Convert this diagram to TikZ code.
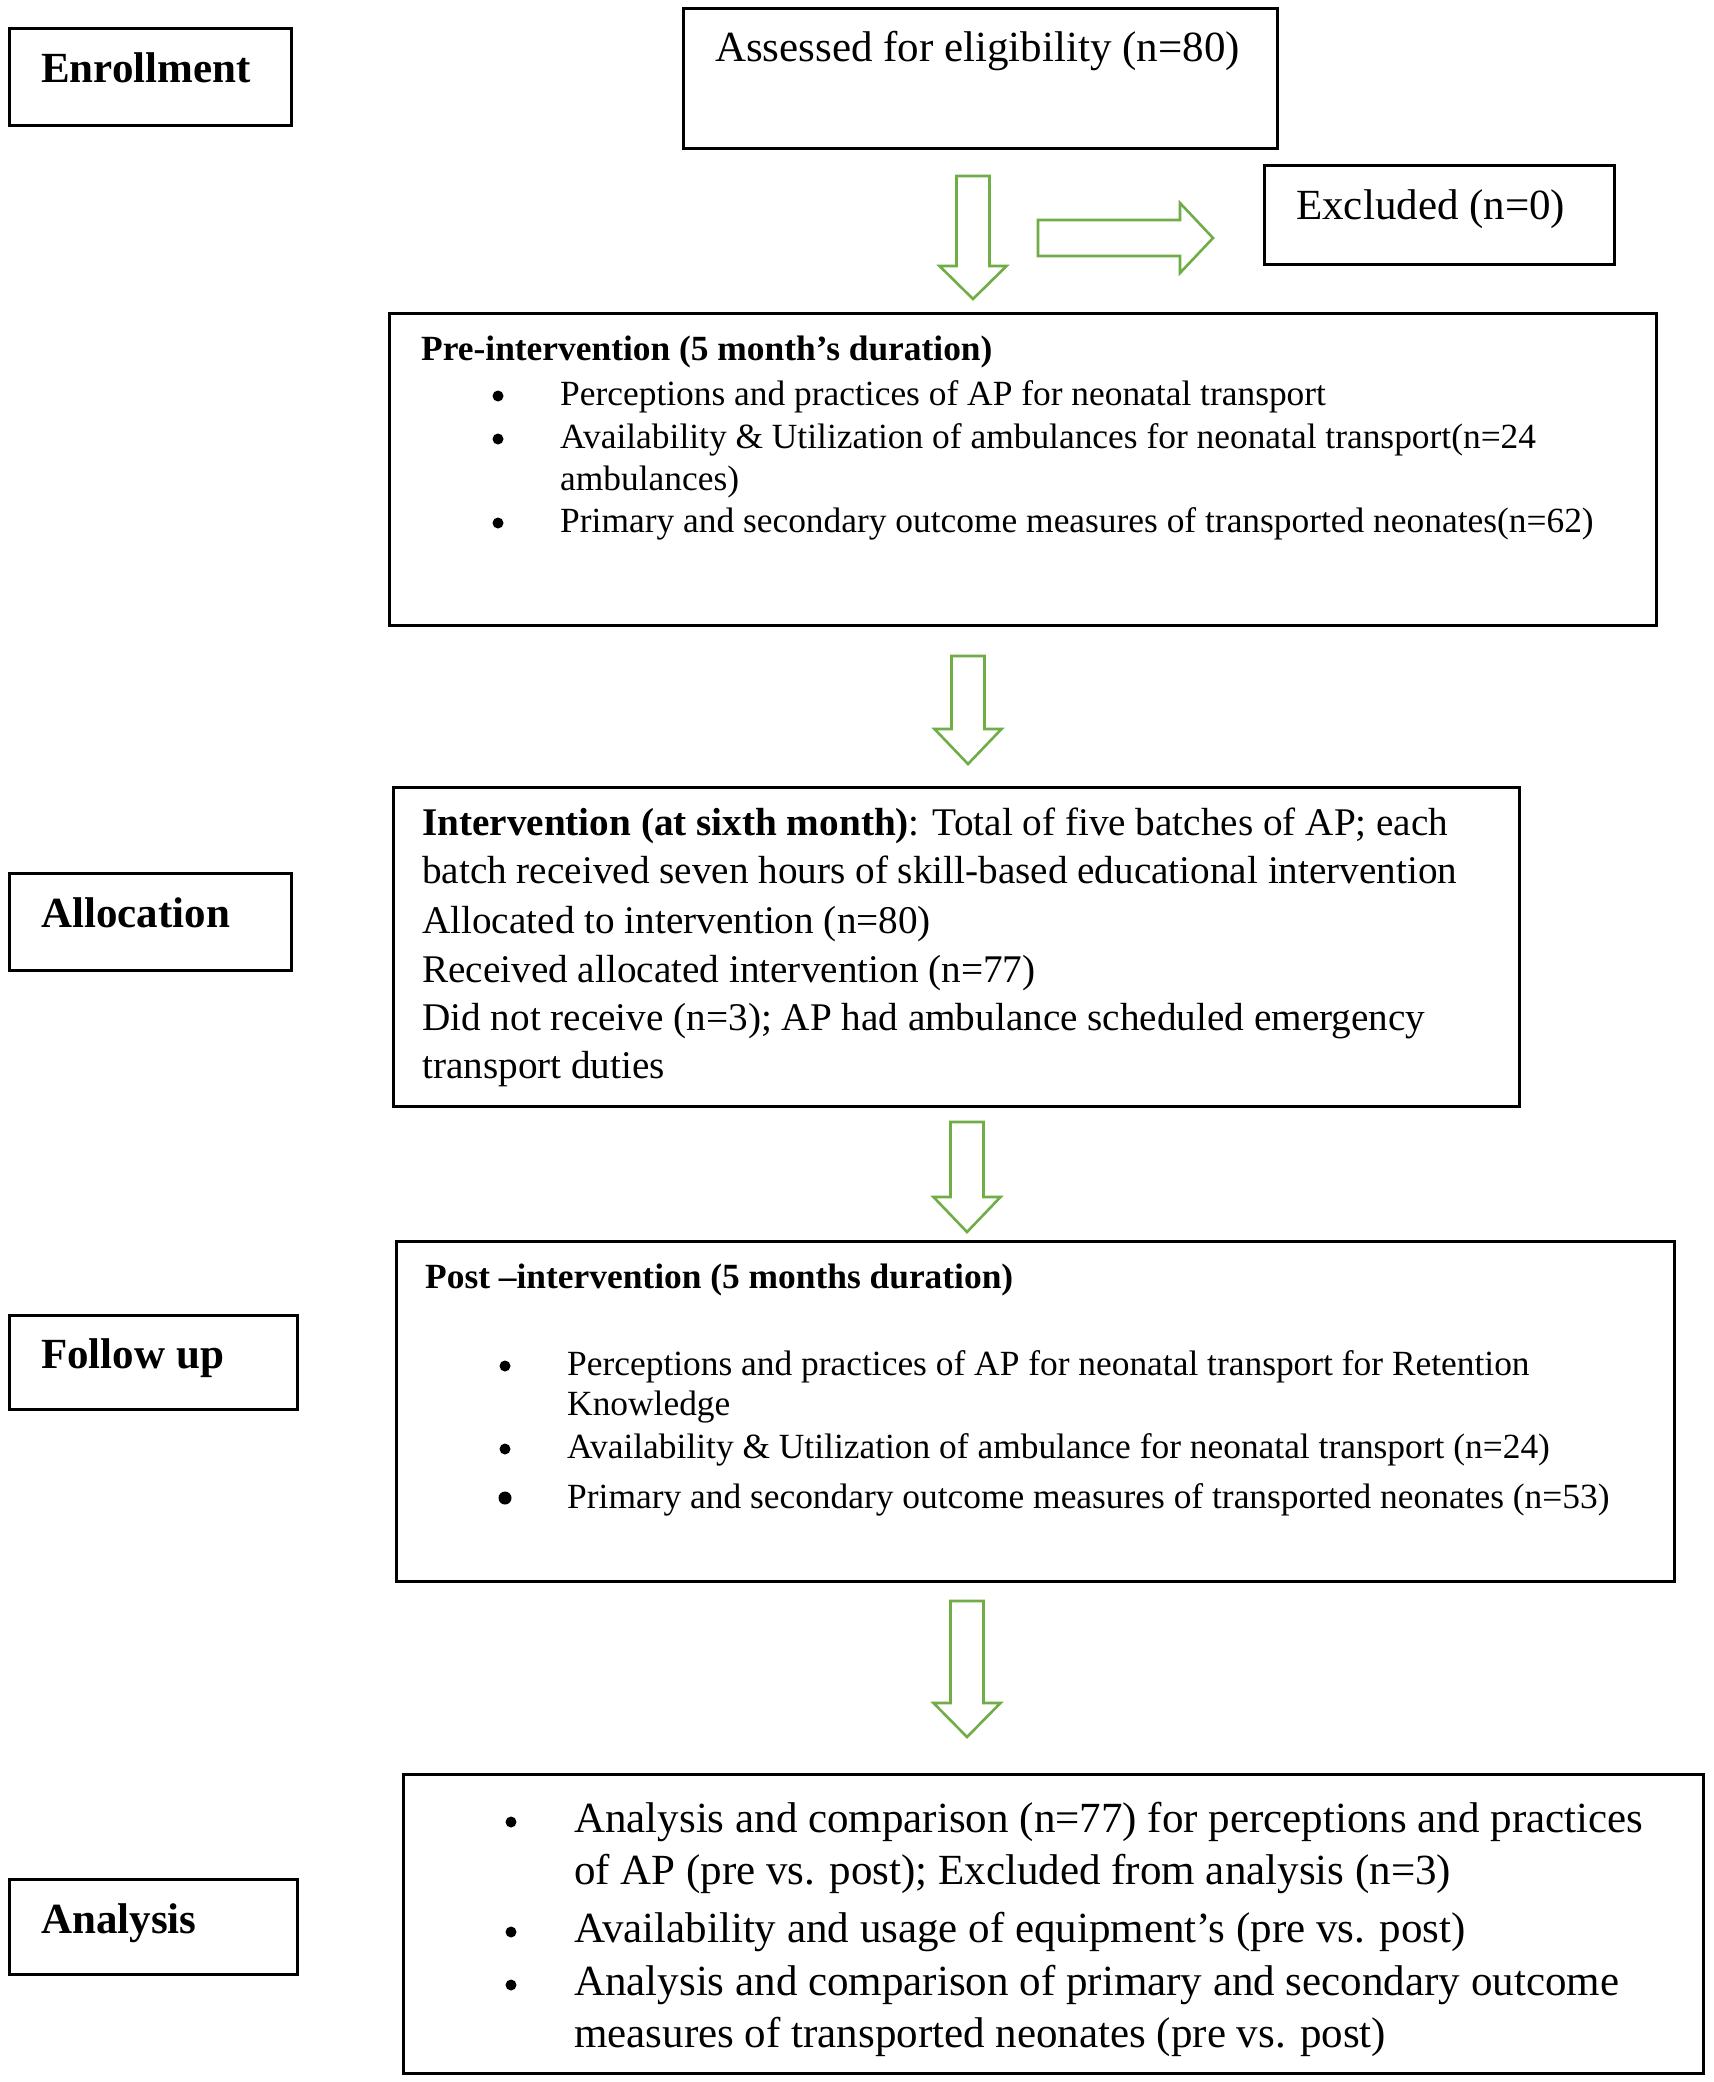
\documentclass[tikz,border=0pt]{standalone}
\usepackage{fontspec}
\setmainfont{Liberation Serif}
\definecolor{arrowgreen}{RGB}{112,173,71}
\newcommand\szBig{\fontsize{43}{52}\selectfont}
\newcommand\szPre{\fontsize{35.4}{42}\selectfont}
\newcommand\szInt{\fontsize{39.2}{48}\selectfont}
\newcommand\blockdown[4]{% cx, ytop, yhead, ytip
  \draw[garrow] (#1-16.5,#2) -- (#1+16.5,#2) -- (#1+16.5,#3) -- (#1+33.5,#3)
    -- (#1,#4) -- (#1-33.5,#3) -- (#1-16.5,#3) -- cycle;}
\tikzset{
  box/.style={draw=black, line width=2.6pt, rectangle, inner sep=0pt, anchor=north west},
  lbl/.style={anchor=base west, inner sep=0pt, font=\szBig\bfseries},
  t43/.style={anchor=base west, inner sep=0pt, font=\szBig},
  t35/.style={anchor=base west, inner sep=0pt, font=\szPre},
  t39/.style={anchor=base west, inner sep=0pt, font=\szInt},
  dotsm/.style={circle, fill=black, inner sep=0pt, minimum size=11pt},
  dotlg/.style={circle, fill=black, inner sep=0pt, minimum size=13pt},
  garrow/.style={draw=arrowgreen, line width=2.6pt, fill=white, line join=miter},
}
\begin{document}
\begin{tikzpicture}[x=1pt,y=-1pt]
\useasboundingbox (0,0) rectangle (1713,2082);
\fill[white] (0,0) rectangle (1713,2082);

% boxes
\node[box, minimum width=282pt, minimum height=97pt] (enroll) at (8,27) {};
\node[box, minimum width=594pt, minimum height=140pt] (assess) at (682,7) {};
\node[box, minimum width=350pt, minimum height=99pt] (excl) at (1263,164) {};
\node[box, minimum width=1267pt, minimum height=312pt] (pre) at (388,312) {};
\node[box, minimum width=282pt, minimum height=97pt] (alloc) at (8,872) {};
\node[box, minimum width=1126pt, minimum height=319pt] (interv) at (392,786) {};
\node[box, minimum width=288pt, minimum height=94pt] (follow) at (8,1314) {};
\node[box, minimum width=1278pt, minimum height=340pt] (post) at (395,1240) {};
\node[box, minimum width=288pt, minimum height=95pt] (analab) at (8,1878) {};
\node[box, minimum width=1300pt, minimum height=299pt] (anal) at (402,1773) {};

% left labels
\node[lbl] (tenroll) at (41,83) {Enrollment};
\node[lbl] (talloc) at (41,927) {Allocation};
\node[lbl] (tfollow) at (41,1368) {Follow up};
\node[lbl] (tanal) at (41,1933) {Analysis};

% top texts
\node[t43] (tassess) at (715,62) {Assessed for eligibility (n=80)};
\node[t43] (texcl) at (1296,219) {Excluded (n=0)};

% pre-intervention
\node[t35, font=\szPre\bfseries] (pret) at (421,360) {Pre-intervention (5 month’s duration)};
\node[dotsm] (preb1) at (498,396) {};
\node[t35] (pre1) at (560,405) {Perceptions and practices of AP for neonatal transport};
\node[dotsm] (preb2) at (498,439) {};
\node[t35] (pre2) at (560,448) {Availability \& Utilization of ambulances for neonatal transport(n=24};
\node[t35] (pre2b) at (560,490) {ambulances)};
\node[dotsm] (preb3) at (498,523) {};
\node[t35] (pre3) at (560,532) {Primary and secondary outcome measures of transported neonates(n=62)};

% intervention
\node[t39] (int1) at (422,835) {\textbf{Intervention (at sixth month)}: Total of five batches of AP; each};
\node[t39] (int2) at (422,883) {batch received seven hours of skill-based educational intervention};
\node[t39] (int3) at (422,933) {Allocated to intervention (n=80)};
\node[t39] (int4) at (422,982) {Received allocated intervention (n=77)};
\node[t39] (int5) at (422,1030) {Did not receive (n=3); AP had ambulance scheduled emergency};
\node[t39] (int6) at (422,1078) {transport duties};

% post-intervention
\node[t35, font=\szPre\bfseries] (postt) at (425,1288) {Post –intervention (5 months duration)};
\node[dotsm] (postb1) at (505,1366) {};
\node[t35] (post1) at (567,1375) {Perceptions and practices of AP for neonatal transport for Retention};
\node[t35] (post1b) at (567,1415) {Knowledge};
\node[dotsm] (postb2) at (505,1449) {};
\node[t35] (post2) at (567,1458) {Availability \& Utilization of ambulance for neonatal transport (n=24)};
\node[dotlg] (postb3) at (505,1498) {};
\node[t35] (post3) at (567,1508) {Primary and secondary outcome measures of transported neonates (n=53)};

% analysis
\node[dotsm] (anb1) at (511,1822) {};
\node[t43] (an1) at (574,1832) {Analysis and comparison (n=77) for perceptions and practices};
\node[t43] (an1b) at (574,1884) {of AP (pre vs. post); Excluded from analysis (n=3)};
\node[dotsm] (anb2) at (511,1932) {};
\node[t43] (an2) at (574,1942) {Availability and usage of equipment’s (pre vs. post)};
\node[dotsm] (anb3) at (511,1985) {};
\node[t43] (an3) at (574,1995) {Analysis and comparison of primary and secondary outcome};
\node[t43] (an3b) at (574,2047) {measures of transported neonates (pre vs. post)};

% green block arrows
\blockdown{973}{176}{266}{299}
\blockdown{968}{656}{729}{764}
\blockdown{967}{1122}{1197}{1232}
\blockdown{967}{1601}{1703}{1737}
\draw[garrow] (1038,220) -- (1180,220) -- (1180,203) -- (1213,238)
  -- (1180,273) -- (1180,256) -- (1038,256) -- cycle;
\end{tikzpicture}
\end{document}
